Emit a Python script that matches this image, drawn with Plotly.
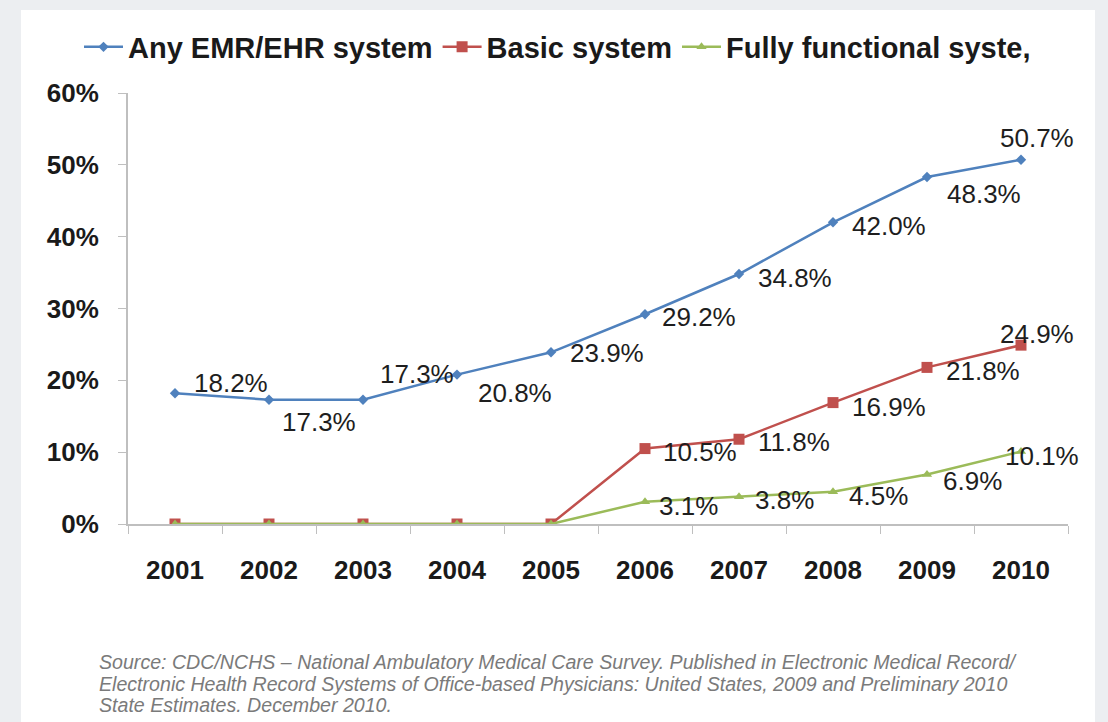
import plotly.graph_objects as go

years = ["2001", "2002", "2003", "2004", "2005", "2006", "2007", "2008", "2009", "2010"]
any_emr = [18.2, 17.3, 17.3, 20.8, 23.9, 29.2, 34.8, 42.0, 48.3, 50.7]
basic = [0, 0, 0, 0, 0, 10.5, 11.8, 16.9, 21.8, 24.9]
fully = [0, 0, 0, 0, 0, 3.1, 3.8, 4.5, 6.9, 10.1]
names = ["Any EMR/EHR system", "Basic system", "Fully functional syste,"]
source_lines = [
    "Source: CDC/NCHS \u2013 National Ambulatory Medical Care Survey. Published in Electronic Medical Record/",
    "Electronic Health Record Systems of Office-based Physicians: United States, 2009 and Preliminary 2010",
    "State Estimates. December 2010.",
]

# label offsets (style): (dx to left edge, dy downward) in pixels
off_any = [(17, -10), (11, 22), (15, -26), (19, 18), (17, 1), (15, 3), (17, 4), (17, 4), (18, 17), (-23, -22)]
off_basic = [None] * 5 + [(16, 3), (17, 3), (17, 4), (17, 4), (-23, -11)]
off_fully = [None] * 5 + [(12, 4), (14, 3), (14, 4), (14, 7), (-18, 5)]

colors = ["#4F81BD", "#C0504D", "#9BBB59"]
symbols = ["diamond", "square", "triangle-up"]
sizes = [8, 11, 9]
series = [any_emr, basic, fully]
offsets = [off_any, off_basic, off_fully]

fig = go.Figure()
for s, n, c, sym, sz in zip(series, names, colors, symbols, sizes):
    fig.add_trace(go.Scatter(
        x=years, y=s, name=n, mode="lines+markers",
        line=dict(color=c, width=2.5),
        marker=dict(symbol=sym, size=sz, color=c),
    ))

annotations = []
for s, offs in zip(series, offsets):
    for i, (v, o) in enumerate(zip(s, offs)):
        if o is None:
            continue
        annotations.append(dict(
            x=i, y=v, xref="x", yref="y", text=f"{v:.1f}%", showarrow=False,
            xanchor="left", yanchor="middle", xshift=o[0], yshift=-o[1],
            font=dict(family="Liberation Sans, Arial, sans-serif", size=26, color="#1e1e1e"),
        ))

L, R, T, B = 128, 40, 93, 198
W, H = 1108, 722
pw, ph = W - L - R, H - T - B

def px(x):
    return (x - L) / pw

def py(y):
    return (H - B - y) / ph

for line, ly in zip(source_lines, [662, 684, 705]):
    annotations.append(dict(
        x=px(97), y=py(ly), xref="paper", yref="paper", text="<i>" + line + "</i>",
        showarrow=False, xanchor="left", yanchor="middle", align="left",
        font=dict(family="Liberation Sans Narrow, Liberation Sans, Arial, sans-serif", size=19.6, color="#7a7a7a"),
    ))

fig.update_layout(
    width=W, height=H,
    margin=dict(l=L, r=R, t=T, b=B),
    paper_bgcolor="#eceef1",
    plot_bgcolor="white",
    showlegend=True,
    legend=dict(
        orientation="h", x=px(79), y=py(47), xanchor="left", yanchor="middle",
        font=dict(family="Liberation Sans, Arial, sans-serif", size=29, color="#1a1a1a", weight="bold"),
        bgcolor="rgba(0,0,0,0)", itemwidth=39, tracegroupgap=0,
    ),
    xaxis=dict(
        type="category", range=[-0.5, 9.5], tickson="boundaries", ticks="outside", ticklen=8,
        tickangle=0, tickcolor="#bfbfbf", showline=True, linecolor="#bfbfbf", linewidth=2,
        showgrid=False, zeroline=False, ticklabelstandoff=22,
        tickfont=dict(family="Liberation Sans, Arial, sans-serif", size=26, color="#1a1a1a", weight="bold"),
    ),
    yaxis=dict(
        range=[0, 60], dtick=10, ticksuffix="%", ticks="outside", ticklen=8,
        tickcolor="#bfbfbf", showline=True, linecolor="#bfbfbf", linewidth=2,
        showgrid=False, zeroline=False, ticklabelstandoff=14,
        tickfont=dict(family="Liberation Sans, Arial, sans-serif", size=26, color="#1a1a1a", weight="bold"),
    ),
    annotations=annotations,
    shapes=[dict(type="rect", xref="paper", yref="paper",
                 x0=px(21), x1=px(1095), y0=py(740), y1=py(10),
                 fillcolor="white", line=dict(width=0), layer="below")],
)

fig.write_html("out.html")
